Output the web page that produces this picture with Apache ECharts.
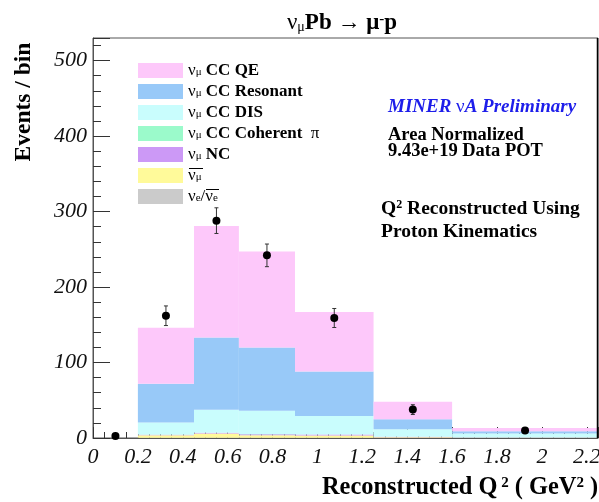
<!DOCTYPE html>
<html><head><meta charset="utf-8">
<script src="https://cdn.jsdelivr.net/npm/echarts@6/dist/echarts.min.js"></script>
<style>html,body{margin:0;padding:0;background:#fff}#c{width:599px;height:502px}</style>
</head><body><div id="c"></div>
<script>
// ---- data ----
const binEdges = [0, 0.2, 0.45, 0.65, 0.9, 1.25, 1.6, 2.25];
const nue      = [0, 0.2, 0.3, 0.3, 0.3, 0.1, 0.05];
const numubar  = [0, 3.5, 5.5, 3.5, 3.0, 1.0, 0.3];
const ncVals   = [0, 0.5, 1.0, 1.2, 1.2, 0.5, 0.2];
const coherent = [0, 0.3, 0.3, 0.2, 0.2, 0.1, 0];
const disVals  = [0, 16, 30.4, 30.8, 24.3, 9.8, 5.25];
const resonant = [0, 51.5, 95.5, 84, 59, 13.5, 3.2];
const qeVals   = [0, 74, 148, 127, 79, 23, 4.3];
const dataX   = [0.1, 0.325, 0.55, 0.775, 1.075, 1.425, 1.925];
const dataY   = [2.7, 162, 288, 242, 159, 37.6, 9.8];
const dataErr = [1.6, 13, 17, 15, 12.6, 6.5, 3];
const xTickLabels = ['0','0.2','0.4','0.6','0.8','1','1.2','1.4','1.6','1.8','2','2.2'];
const yTickLabels = ['0','100','200','300','400','500'];

// ---- components, bottom to top ----
const comps = [
  {key:'nue',  vals:nue,      color:'#CBCBCB', label:'{g|ν}{s|e}{g|/ν}{s|e}'},
  {key:'numubar', vals:numubar, color:'#FFFA9A', label:'{g|ν}{s|μ}'},
  {key:'nc',   vals:ncVals,   color:'#CC99F6', label:'{g|ν}{s|μ}{b| NC}'},
  {key:'coh',  vals:coherent, color:'#9BFACB', label:'{g|ν}{s|μ}{b| CC Coherent  }{g|π}'},
  {key:'dis',  vals:disVals,  color:'#C9FDFD', label:'{g|ν}{s|μ}{b| CC DIS}'},
  {key:'res',  vals:resonant, color:'#98C9F8', label:'{g|ν}{s|μ}{b| CC Resonant}'},
  {key:'qe',   vals:qeVals,   color:'#FDC8FA', label:'{g|ν}{s|μ}{b| CC QE}'}
];

const serif = 'Liberation Serif';
const cum = new Array(binEdges.length - 1).fill(0);
const series = [];
comps.forEach(c => {
  const d = [];
  for (let i = 0; i < cum.length; i++) {
    const lo = cum[i], hi = cum[i] + c.vals[i];
    d.push([binEdges[i], binEdges[i+1], lo, hi]);
    cum[i] = hi;
  }
  series.push({
    type:'custom', name:c.key, data:d, z:2,
    itemStyle:{color:c.color},
    encode:{x:[0,1], y:[2,3]},
    renderItem:function(params, api){
      const p0 = api.coord([api.value(0), api.value(3)]);
      const p1 = api.coord([api.value(1), api.value(2)]);
      return {type:'rect', shape:{x:p0[0], y:p0[1], width:p1[0]-p0[0], height:p1[1]-p0[1]},
              style:{fill:c.color}};
    }
  });
});

const pts = dataX.map((x,i)=>[x, dataY[i], dataErr[i]]);
series.push({
  type:'custom', name:'err', data:pts, z:5, encode:{x:0, y:1},
  renderItem:function(params, api){
    const x = api.value(0), y = api.value(1), e = api.value(2);
    const t = api.coord([x, y+e]), b = api.coord([x, y-e]);
    const st = {stroke:'#333', lineWidth:1};
    return {type:'group', children:[
      {type:'line', shape:{x1:t[0], y1:t[1], x2:b[0], y2:b[1]}, style:st},
      {type:'line', shape:{x1:t[0]-2, y1:t[1], x2:t[0]+2, y2:t[1]}, style:st},
      {type:'line', shape:{x1:b[0]-2, y1:b[1], x2:b[0]+2, y2:b[1]}, style:st}
    ]};
  }
});
series.push({
  type:'scatter', name:'data', data:pts.map(p=>[p[0],p[1]]), symbol:'circle', symbolSize:8,
  itemStyle:{color:'#000', opacity:1}, z:6
});

const legendRich = {
  g:{fontFamily:serif, fontSize:17, lineHeight:15, color:'#000'},
  s:{fontFamily:serif, fontSize:11, lineHeight:6, verticalAlign:'bottom', color:'#000'},
  b:{fontFamily:serif, fontSize:17, fontWeight:'bold', lineHeight:15, color:'#000'}
};
const legendMap = {};
comps.forEach(c => legendMap[c.key] = c.label);

const axisLab = {fontFamily:serif, fontStyle:'italic', fontSize:22, color:'#111'};
const fmtX = v => { const r = Math.round(v*5); return Math.abs(v*5 - r) < 1e-6 ? xTickLabels[r] || '' : ''; };
const fmtY = v => { const r = Math.round(v/100); return Math.abs(v/100 - r) < 1e-6 ? yTickLabels[r] || '' : ''; };

const chart = echarts.init(document.getElementById('c'), null, {renderer:'canvas'});
chart.setOption({
  animation:false,
  backgroundColor:'#fff',
  grid:{left:93, right:1, top:38, bottom:64, show:true, borderColor:'#555', borderWidth:1, outerBoundsMode:'none', containLabel:false},
  xAxis:[
    {type:'value', min:0, max:2.25, interval:0.2, position:'bottom', offset:0,
     axisLine:{lineStyle:{color:'#555', width:1}},
     axisTick:{inside:true, length:11, lineStyle:{color:'#333'}},
     axisLabel:{...axisLab, margin:8, formatter:fmtX, showMaxLabel:true},
     splitLine:{show:false}},
    {type:'value', min:0, max:2.25, interval:0.05, position:'bottom', offset:0,
     axisLine:{show:false},
     axisTick:{inside:true, length:6, lineStyle:{color:'#333'}},
     axisLabel:{show:false}, splitLine:{show:false}}
  ],
  yAxis:[
    {type:'value', min:0, max:530, interval:100, position:'left', offset:0,
     axisLine:{show:true, lineStyle:{color:'#555', width:1}},
     axisTick:{show:true, inside:true, length:17, lineStyle:{color:'#333'}},
     axisLabel:{...axisLab, margin:6, formatter:fmtY},
     splitLine:{show:false}},
    {type:'value', min:0, max:530, interval:20, position:'left', offset:0,
     axisLine:{show:false},
     axisTick:{show:true, inside:true, length:8, lineStyle:{color:'#333'}},
     axisLabel:{show:false}, splitLine:{show:false}}
  ],
  legend:{
    orient:'vertical', left:138, top:62, itemWidth:45, itemHeight:15, itemGap:4, itemTextGap:9,
    selectedMode:false, icon:'rect', padding:0,
    data:comps.slice().reverse().map(c=>({name:c.key, itemStyle:{color:c.color}})),
    formatter:name => legendMap[name],
    textStyle:{rich:legendRich, lineHeight:15}
  },
  graphic:[
    // right frame edge (thicker, as in the reference)
    {type:'line', shape:{x1:597.5, y1:38, x2:597.5, y2:438}, style:{stroke:'#000', lineWidth:1.5}, z:10},
    // overlines on the antineutrino legend labels
    {type:'line', shape:{x1:189, y1:168.5, x2:203, y2:168.5}, style:{stroke:'#000', lineWidth:1}, z:10},
    {type:'line', shape:{x1:206, y1:189.5, x2:219, y2:189.5}, style:{stroke:'#000', lineWidth:1}, z:10},
    {type:'text', x:342, y:23, style:{
      text:'{g|ν}{s|μ}{b|Pb → μ}{p|-}{b|p}', align:'center', verticalAlign:'middle',
      rich:{
        g:{fontFamily:serif, fontSize:23, lineHeight:22, fill:'#000'},
        s:{fontFamily:serif, fontSize:14, lineHeight:6, verticalAlign:'bottom', fill:'#000'},
        b:{fontFamily:serif, fontSize:23, fontWeight:'bold', lineHeight:22, fill:'#000'},
        p:{fontFamily:serif, fontSize:15, fontWeight:'bold', lineHeight:2, verticalAlign:'top', fill:'#000'}
      }}},
    {type:'text', x:24, y:102, rotation:Math.PI/2, style:{
      text:'Events / bin', align:'center', verticalAlign:'middle',
      font:'bold 23.5px "Liberation Serif"', fill:'#000'}},
    {type:'text', x:322, y:488, style:{
      text:'{b|Reconstructed Q}{p| 2}{b| ( GeV}{p|2}{b| )}', align:'left', verticalAlign:'middle',
      rich:{
        b:{fontFamily:serif, fontSize:24.4, fontWeight:'bold', lineHeight:24, fill:'#000'},
        p:{fontFamily:serif, fontSize:15, fontWeight:'bold', lineHeight:8, verticalAlign:'top', fill:'#000'}
      }}},
    {type:'text', x:388, y:107, style:{
      text:'{i|MINER }{n|ν}{i|A Preliminary}', align:'left', verticalAlign:'middle',
      rich:{
        i:{fontFamily:serif, fontSize:19, fontStyle:'italic', fontWeight:'bold', lineHeight:20, fill:'#1d1dea'},
        n:{fontFamily:serif, fontSize:19, lineHeight:20, fill:'#1d1dea'}
      }}},
    {type:'text', x:388, y:135, style:{
      text:'Area Normalized', align:'left', verticalAlign:'middle',
      font:'bold 18.5px "Liberation Serif"', fill:'#000'}},
    {type:'text', x:388, y:151, style:{
      text:'9.43e+19 Data POT', align:'left', verticalAlign:'middle',
      font:'bold 18.5px "Liberation Serif"', fill:'#000'}},
    {type:'text', x:381, y:209, style:{
      text:'{b|Q}{p|2}{b| Reconstructed Using}', align:'left', verticalAlign:'middle',
      rich:{
        b:{fontFamily:serif, fontSize:19.5, fontWeight:'bold', lineHeight:20, fill:'#000'},
        p:{fontFamily:serif, fontSize:12, fontWeight:'bold', lineHeight:6, verticalAlign:'top', fill:'#000'}
      }}},
    {type:'text', x:381, y:232, style:{
      text:'Proton Kinematics', align:'left', verticalAlign:'middle',
      font:'bold 19.5px "Liberation Serif"', fill:'#000'}}
  ],
  series:series
});
</script></body></html>
